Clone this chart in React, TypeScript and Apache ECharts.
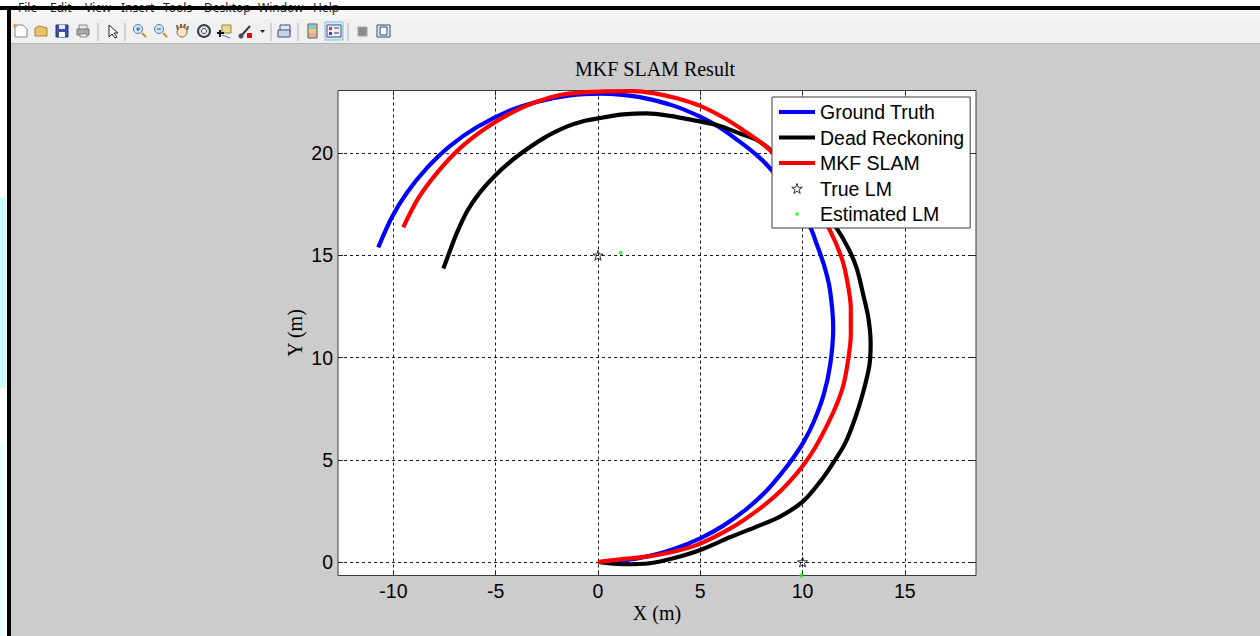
import React, { useEffect, useRef } from "react";
import * as echarts from "echarts";

const truthPath: number[][] = [[0,0],[1.24,0.08],[2.54,0.3],[3.68,0.62],[5,1.16],[6.13,1.78],[7.27,2.6],[8.25,3.5],[9.06,4.45],[9.55,5.1],[10.04,5.85],[10.55,6.86],[11.03,8.17],[11.35,9.63],[11.5,11.43],[11.33,13.38],[11.05,14.52],[10.68,15.58],[10.4,16.32],[9.55,17.8],[8.49,19.17],[7.76,19.9],[6.94,20.55],[5.97,21.24],[4.99,21.78],[3.68,22.32],[2.22,22.7],[1.08,22.86],[0.1,22.9],[-1.37,22.82],[-3,22.5],[-4.3,22.08],[-5.93,21.26],[-7.24,20.34],[-8.38,19.25],[-9.35,18.05],[-10.09,16.84],[-10.74,15.39]];
const deadReckoning: number[][] = [[0,0],[1.24,-0.11],[2.54,-0.06],[3.68,0.18],[5,0.59],[6.45,1.21],[7.76,1.73],[8.9,2.22],[10.01,2.95],[10.86,3.93],[11.43,4.74],[12.08,5.8],[12.57,7.03],[12.97,8.33],[13.27,9.63],[13.33,10.69],[13.22,11.92],[12.97,13.06],[12.65,14.36],[12.24,15.34],[11.67,16.32],[10.7,17.6],[9.6,19],[8.49,20.11],[7.76,20.64],[6.94,20.96],[5.8,21.37],[4.66,21.61],[3.52,21.82],[2.38,21.94],[1.24,21.89],[0.26,21.74],[-0.72,21.56],[-1.53,21.29],[-2.67,20.72],[-3.98,19.82],[-4.95,18.98],[-5.77,18.08],[-6.37,17.2],[-6.92,16.05],[-7.3,15.05],[-7.56,14.36]];
const mkfSlam: number[][] = [[0,0],[1.08,0.13],[2.38,0.26],[3.68,0.5],[5,0.9],[6.62,1.73],[7.76,2.5],[8.74,3.3],[9.72,4.34],[10.37,5.2],[10.9,6.1],[11.59,7.52],[12,8.66],[12.24,9.96],[12.36,11.1],[12.36,12.41],[12.19,13.71],[11.92,14.85],[11.34,16.22],[10.6,17.5],[9.6,18.9],[8.49,20.06],[7.92,20.55],[7.1,21.12],[6.13,21.74],[4.99,22.31],[3.85,22.68],[2.7,22.93],[1.73,23.03],[0.42,23.02],[-0.72,22.97],[-1.86,22.84],[-3,22.51],[-4.14,22.02],[-5.44,21.25],[-6.75,20.23],[-7.89,19.01],[-8.79,17.78],[-9.52,16.37]];
const trueLandmarks: number[][] = [[0,15],[10,0]];
const estimatedLandmarks: number[][] = [[1.11,15.12],[9.94,-0.66]];
const xTicks = [-10,-5,0,5,10,15];
const yTicks = [0,5,10,15,20];
const seriesNames = ["Ground Truth","Dead Reckoning","MKF SLAM","True LM","Estimated LM"];
const menuLabels: [string, number][] = [["File",18],["Edit",50],["View",85],["Insert",121],["Tools",163],["Desktop",204],["Window",258],["Help",313]];

const STAR = "path://M50 0L62 36L100 36L69 59L81 95L50 73L19 95L31 59L0 36L38 36Z";
const DOT = "path://M0 0L0 0M100 100L100 100M34 34H66V66H34Z";
const BAR = "path://M0 0L0 0M36 10L36 10M0 3H36V7H0Z";

const r = (x: number, y: number, w: number, h: number, fill: string, stroke?: string, z = 1) => ({
  type: "rect", z, shape: { x, y, width: w, height: h }, style: { fill, stroke: stroke ?? "none", lineWidth: 1 },
});
const l = (x1: number, y1: number, x2: number, y2: number, stroke: string, lineWidth = 1) => ({
  type: "line", z: 2, shape: { x1, y1, x2, y2 }, style: { stroke, lineWidth },
});
const c = (cx: number, cy: number, rad: number, fill: string, stroke = "none", lineWidth = 1) => ({
  type: "circle", z: 2, shape: { cx, cy, r: rad }, style: { fill, stroke, lineWidth },
});
const pg = (points: number[][], fill: string, stroke = "none") => ({
  type: "polygon", z: 2, shape: { points }, style: { fill, stroke, lineWidth: 1 },
});

function chrome(): any[] {
  const els: any[] = [
    r(0, 0, 1260, 6, "#ffffff"),
    r(0, 6, 7, 630, "#ffffff"),
    r(0, 197, 6, 191, "#ccffff", undefined, 1),
    r(0, 443, 3, 193, "#e6ffff", undefined, 1),
    r(11, 10, 1249, 9, "#f5f5f5"),
    r(11, 19, 1249, 24, "#f0f0f0"),
    r(11, 43, 1249, 1, "#b4b4b4"),
    ...menuLabels.map(([t, x]) => ({
      type: "text", z: 2, x, y: 1,
      style: { text: t, fill: "#222", font: '12px "Noto Sans"' },
    })),
    r(0, 6, 1260, 4, "#000000", undefined, 5),
    r(7, 6, 4, 630, "#000000", undefined, 5),
    pg([[15,25],[23,25],[27,29],[27,37],[15,37]], "#fdfdfd", "#8a8a8a"),
    c(15, 26, 2, "#e89a5a"),
    pg([[35,28],[39,26],[47,28],[47,36],[35,36]], "#e8c468", "#a8863a"),
    r(56, 25, 12, 12, "#3c50a8", "#26357a"),
    r(59, 25, 6, 4, "#e8e8f0"),
    r(59, 32, 6, 5, "#ffffff"),
    r(79, 25, 8, 5, "#e8e8e8", "#888"),
    r(77, 29, 12, 6, "#a8a8a8", "#777"),
    r(80, 34, 7, 3, "#f0f0f0", "#888"),
    l(98, 23, 98, 41, "#b0b0b0"),
    pg([[109,25],[109,37],[112,34],[115,38],[117,37],[114,33],[118,33]], "#ffffff", "#222"),
    l(125, 23, 125, 41, "#b0b0b0"),
    c(138, 29, 4.5, "#cfe6f8", "#5080b0"),
    l(138, 27, 138, 31, "#2060a0"), l(136, 29, 140, 29, "#2060a0"),
    l(142, 33, 146, 37, "#c89030", 2),
    c(159, 29, 4.5, "#cfe6f8", "#5080b0"),
    l(157, 29, 161, 29, "#2060a0"),
    l(163, 33, 167, 37, "#c89030", 2),
    c(182, 32, 5, "#f8e4c8", "#806040"),
    l(178, 30, 177, 25, "#806040", 2), l(181, 28, 181, 24, "#806040", 2), l(184, 28, 185, 24, "#806040", 2), l(187, 30, 188, 26, "#806040", 2),
    c(204, 31, 6, "#dfe3ea", "#3a4250", 2),
    c(204, 31, 2.5, "#ffffff", "#3a4250"),
    r(222, 25, 9, 8, "#e8dc90", "#908840"),
    l(217, 33, 224, 33, "#111", 2), l(220, 30, 220, 37, "#111", 2),
    l(222, 35, 230, 38, "#7060c0"),
    l(241, 36, 250, 26, "#303848", 2),
    c(241, 36, 2.5, "#404858"),
    r(247, 33, 5, 5, "#ee0000"),
    pg([[260,30],[265,30],[262.5,33]], "#222"),
    l(271, 23, 271, 41, "#b0b0b0"),
    r(280, 25, 10, 8, "#dfe7f2", "#3a5078"),
    r(278, 30, 12, 7, "#c8d4e4", "#3a5078"),
    l(298, 23, 298, 41, "#b0b0b0"),
    r(308, 24, 9, 14, "#e8d080", "#505868"),
    r(309, 25, 7, 4, "#80c8e8"),
    r(309, 33, 7, 4, "#e8a8a8"),
    r(325, 22, 18, 18, "#d8eaf8", "#80bce8"),
    r(327, 25, 14, 12, "#f0f0f4", "#39507c"),
    r(329, 27, 3, 3, "#dd3040"), r(329, 32, 3, 3, "#3050c0"),
    l(334, 28, 339, 28, "#303848"), l(334, 33, 339, 33, "#303848"),
    l(348, 23, 348, 41, "#b0b0b0"),
    r(358, 27, 9, 9, "#8c8c8c", "#a8a8a8"),
    r(377, 25, 13, 12, "#e8ecf4", "#31477a"),
    r(380, 27, 7, 8, "#f8f8f8", "#31477a"),
  ];
  return els;
}

const axisFont = { color: "#000", fontFamily: '"Liberation Sans", Arial', fontSize: 19.5 };
const nameFont = { color: "#000", fontFamily: '"Liberation Serif", serif', fontSize: 20 };
const gridStyle = { color: "#1a1a1a", width: 1, type: [3, 3] as number[] };

function xAxis(ticks: number[], position: string, main: boolean) {
  return {
    type: "value", position, min: -12.71, max: 18.48,
    name: main ? "X (m)" : undefined, nameLocation: "middle", nameGap: 27, nameMoveOverlap: false, nameTextStyle: nameFont,
    axisLine: { show: false, onZero: false },
    axisTick: { show: true, inside: true, length: 5, customValues: ticks, lineStyle: { color: "#222" } },
    axisLabel: main ? { show: true, margin: 5, customValues: ticks, ...axisFont } : { show: false },
    splitLine: main ? { show: true, customValues: ticks, lineStyle: gridStyle, showMinLine: true, showMaxLine: true } : { show: false },
  };
}
function yAxis(ticks: number[], position: string, main: boolean) {
  return {
    type: "value", position, min: -0.66, max: 23.06,
    name: main ? "Y (m)" : undefined, nameLocation: "middle", nameGap: 33, nameMoveOverlap: false, nameTextStyle: nameFont, nameRotate: 90,
    axisLine: { show: false, onZero: false },
    axisTick: { show: true, inside: true, length: 5, customValues: ticks, lineStyle: { color: "#222" } },
    axisLabel: main ? { show: true, margin: 5, customValues: ticks, ...axisFont } : { show: false },
    splitLine: main ? { show: true, customValues: ticks, lineStyle: gridStyle, showMinLine: true, showMaxLine: true } : { show: false },
  };
}

export default function App() {
  const ref = useRef<HTMLDivElement>(null);
  useEffect(() => {
    document.body.style.margin = "0";
    const chart = echarts.init(ref.current!, null, { renderer: "svg" });
    const lineSeries = (name: string, data: number[][], color: string, z: number) => ({
      name, type: "line", data, symbol: "none", smooth: 0.3, z,
      lineStyle: { color, width: 4.2 }, itemStyle: { color }, silent: true,
    });
    chart.setOption({
      animation: false,
      backgroundColor: "#cccccc",
      title: {
        text: "MKF SLAM Result", left: 650, top: 54, textAlign: "center",
        textStyle: { color: "#000", fontFamily: '"Liberation Serif", serif', fontSize: 20, fontWeight: "normal" },
      },
      grid: { left: 338, top: 90.5, width: 638, height: 485, show: true, backgroundColor: "#fff", borderColor: "#3c3c3c", borderWidth: 1, outerBoundsMode: "none" },
      xAxis: [xAxis(xTicks, "bottom", true), xAxis(xTicks, "top", false)],
      yAxis: [yAxis(yTicks, "left", true), yAxis(yTicks, "right", false)],
      legend: {
        left: 772, top: 97, orient: "vertical", selectedMode: false,
        backgroundColor: "#fff", borderColor: "#3c3c3c", borderWidth: 1,
        padding: [5, 6, 4, 7], itemGap: 5.5, itemWidth: 36, itemHeight: 10,
        textStyle: { ...axisFont, lineHeight: 20 },
        data: [
          { name: seriesNames[0], icon: BAR }, { name: seriesNames[1], icon: BAR }, { name: seriesNames[2], icon: BAR },
          { name: seriesNames[3], icon: STAR, itemStyle: { color: "transparent", borderColor: "#000", borderWidth: 1 } },
          { name: seriesNames[4], icon: DOT },
        ],
      },
      series: [
        lineSeries(seriesNames[0], truthPath, "#0000ff", 2),
        lineSeries(seriesNames[1], deadReckoning, "#000000", 3),
        lineSeries(seriesNames[2], mkfSlam, "#ff0000", 3.5),
        {
          name: seriesNames[3], type: "scatter", data: trueLandmarks, symbol: STAR, symbolSize: 10, clip: false, z: 4, silent: true,
          itemStyle: { color: "transparent", borderColor: "#000", borderWidth: 1 },
        },
        {
          name: seriesNames[4], type: "scatter", data: estimatedLandmarks, symbol: "circle", symbolSize: 4, clip: false, z: 4, silent: true,
          itemStyle: { color: "#00ff00" },
        },
      ],
      graphic: { elements: chrome() },
    });
    return () => chart.dispose();
  }, []);
  return <div ref={ref} style={{ width: 1260, height: 636 }} />;
}
